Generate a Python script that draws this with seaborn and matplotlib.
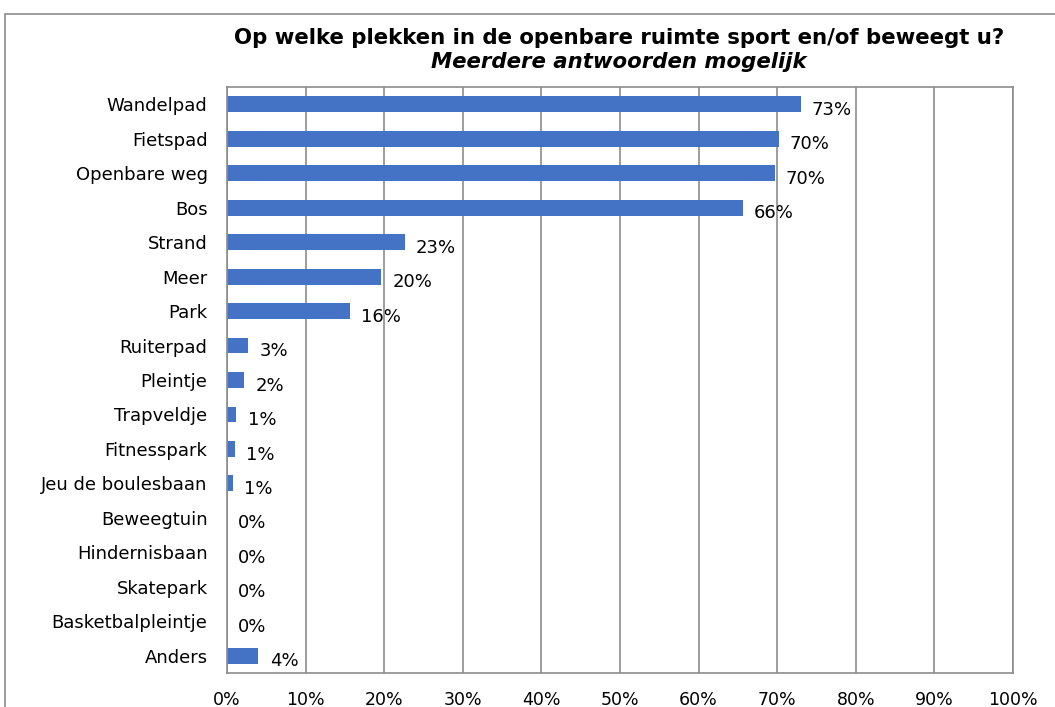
import pandas as pd
import seaborn as sns
import matplotlib.pyplot as plt
from matplotlib.patches import Rectangle
from matplotlib.ticker import MultipleLocator, PercentFormatter

# Data (percent of respondents)
categories = ['Wandelpad', 'Fietspad', 'Openbare weg', 'Bos', 'Strand', 'Meer', 'Park',
              'Ruiterpad', 'Pleintje', 'Trapveldje', 'Fitnesspark', 'Jeu de boulesbaan',
              'Beweegtuin', 'Hindernisbaan', 'Skatepark', 'Basketbalpleintje', 'Anders']
values = [73.0, 70.2, 69.7, 65.6, 22.6, 19.6, 15.6,
          2.7, 2.2, 1.2, 1.0, 0.7,
          0.0, 0.0, 0.0, 0.0, 4.0]

df = pd.DataFrame({'Plek': categories, 'Percentage': values})

sns.set_style('white')
plt.rcParams['font.family'] = ['DejaVu Sans']
plt.rcParams['text.color'] = 'black'
plt.rcParams['xtick.color'] = 'black'
plt.rcParams['ytick.color'] = 'black'

fig = plt.figure(figsize=(10.55, 7.07), dpi=100)
ax = fig.add_axes([0.2152, 0.0481, 0.745, 0.8288])

sns.barplot(data=df, x='Percentage', y='Plek', orient='h', color='#4472C4',
            width=0.46, saturation=1, linewidth=0, ax=ax)

ax.set_xlim(0, 100)
ax.xaxis.set_major_locator(MultipleLocator(10))
ax.xaxis.set_major_formatter(PercentFormatter(decimals=0))
ax.grid(axis='x', color='#8c8c8c', linewidth=1.2)
ax.set_axisbelow(True)
ax.set_xlabel('')
ax.set_ylabel('')

for side in ['left', 'right', 'top', 'bottom']:
    ax.spines[side].set_color('#8c8c8c')
    ax.spines[side].set_linewidth(1.2)

# tick marks between the categories on the y axis
ax.set_yticks([i + 0.5 for i in range(-1, len(categories))], minor=True)
ax.tick_params(axis='y', which='major', length=0, labelsize=13, pad=14)
ax.tick_params(axis='y', which='minor', length=5, color='#8c8c8c', width=1.2)
ax.tick_params(axis='x', which='major', length=5, color='#8c8c8c', width=1.2,
               labelsize=12.5, pad=8)

for i, v in enumerate(values):
    ax.annotate(f'{v:.0f}%', xy=(v, i), xytext=(8, -4), textcoords='offset points',
                va='center', ha='left', fontsize=13)

fig.text(0.587, 0.946, 'Op welke plekken in de openbare ruimte sport en/of beweegt u?',
         ha='center', va='center', fontsize=15.3, fontweight='bold')
fig.text(0.587, 0.912, 'Meerdere antwoorden mogelijk',
         ha='center', va='center', fontsize=15.3, fontweight='bold', style='italic')

# outer chart border
fig.patches.append(Rectangle((0.005, -0.05), 1.1, 1.03, transform=fig.transFigure,
                             fill=False, edgecolor='#8c8c8c', linewidth=1.2))

fig.savefig('out.png', dpi=100)
